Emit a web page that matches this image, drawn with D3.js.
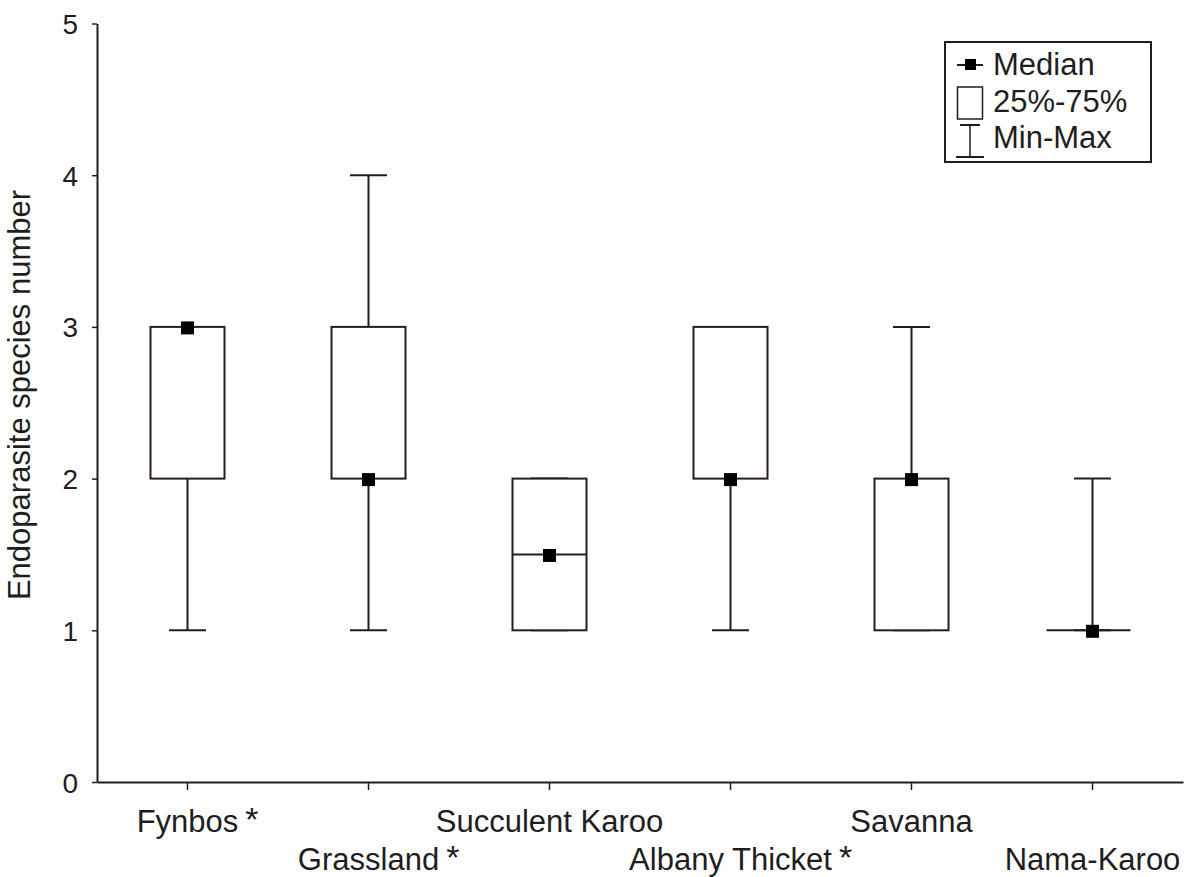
<!DOCTYPE html>
<html>
<head>
<meta charset="utf-8">
<script src="https://cdn.jsdelivr.net/npm/d3@7"></script>
<style>
  html, body { margin: 0; padding: 0; background: #fff; }
  svg { display: block; font-family: "Liberation Sans", Arial, sans-serif; }
</style>
</head>
<body>
<svg id="chart" width="1184" height="877"></svg>
<script>
// Biome names and whether each carries a significance asterisk
const categories = ["Fynbos", "Grassland", "Succulent Karoo", "Albany Thicket", "Savanna", "Nama-Karoo"];
const starred    = [true, true, false, true, false, false];
// Box-plot statistics per biome
const minVals    = [1, 1, 1, 1, 1, 1];
const q1Vals     = [2, 2, 1, 2, 1, 1];
const medianVals = [3, 2, 1.5, 2, 2, 1];
const q3Vals     = [3, 3, 2, 3, 2, 1];
const maxVals    = [3, 4, 2, 3, 3, 2];
const yTicks     = [0, 1, 2, 3, 4, 5];
const legendLabels = ["Median", "25%-75%", "Min-Max"];

const svg = d3.select("#chart");
const ink = "#1e1e1e";
const boxInk = "#2a1c1c";

const x = d3.scaleBand().domain(categories).range([97, 1183]).paddingInner(0).paddingOuter(0);
const y = d3.scaleLinear().domain([0, 5]).range([782, 23.5]);

const boxW = 74, capW = 37, markS = 13;

// Axes
const yAxis = svg.append("g").attr("transform", "translate(97,0)")
  .call(d3.axisLeft(y).tickValues(yTicks).tickSize(5).tickSizeOuter(0).tickPadding(14).tickFormat(d3.format("d")));
yAxis.select(".domain").attr("stroke", ink).attr("stroke-width", 2);
yAxis.selectAll(".tick line").attr("stroke", ink).attr("stroke-width", 1.5);
yAxis.selectAll(".tick text").attr("fill", ink).style("font-size", "28px")
  .style("font-family", "'Liberation Sans', Arial, sans-serif").attr("dy", "0.36em");

const xAxis = svg.append("g").attr("transform", "translate(0,782)")
  .call(d3.axisBottom(x).tickSize(8).tickSizeOuter(0).tickFormat(""));
xAxis.select(".domain").attr("stroke", ink).attr("stroke-width", 2);
xAxis.selectAll(".tick line").attr("stroke", ink).attr("stroke-width", 1.5);

// Category labels, staggered on two rows, with asterisks appended
const labelG = svg.append("g").attr("fill", ink).style("font-size", "31px");
categories.forEach((c, i) => {
  const cx = x(c) + x.bandwidth() / 2;
  const by = i % 2 === 0 ? 832 : 870;
  const t = labelG.append("text").attr("x", cx).attr("y", by).attr("text-anchor", "middle").text(c);
  if (starred[i]) {
    const w = t.node().getComputedTextLength();
    labelG.append("text").attr("x", cx + w / 2 + 7).attr("y", by - 1)
      .style("font-size", "34px").text("*");
  }
});

// Y axis title
svg.append("text")
  .attr("transform", "translate(30,395) rotate(-90)")
  .attr("text-anchor", "middle").attr("fill", ink).style("font-size", "31px")
  .text("Endoparasite species number");

// Box plots
const plot = svg.append("g");
categories.forEach((c, i) => {
  const cx = x(c) + x.bandwidth() / 2;
  const g = plot.append("g");
  // whiskers
  g.append("line").attr("x1", cx).attr("x2", cx).attr("y1", y(maxVals[i])).attr("y2", y(q3Vals[i]))
    .attr("stroke", ink).attr("stroke-width", 2);
  g.append("line").attr("x1", cx).attr("x2", cx).attr("y1", y(q1Vals[i])).attr("y2", y(minVals[i]))
    .attr("stroke", ink).attr("stroke-width", 2);
  [maxVals[i], minVals[i]].forEach(v => {
    g.append("line").attr("x1", cx - capW / 2).attr("x2", cx + capW / 2).attr("y1", y(v)).attr("y2", y(v))
      .attr("stroke", ink).attr("stroke-width", 2);
  });
  // interquartile box
  g.append("rect").attr("x", cx - boxW / 2).attr("y", y(q3Vals[i]))
    .attr("width", boxW).attr("height", Math.max(0, y(q1Vals[i]) - y(q3Vals[i])))
    .attr("fill", "#fff").attr("stroke", boxInk).attr("stroke-width", 2);
  // collapsed box (q1 == q3) drawn as a single line
  if (q1Vals[i] === q3Vals[i]) {
    g.append("line").attr("x1", cx - boxW / 2 - 9).attr("x2", cx + boxW / 2 + 1)
      .attr("y1", y(q1Vals[i])).attr("y2", y(q1Vals[i])).attr("stroke", ink).attr("stroke-width", 2);
  }
  // median line through the box where it lies strictly inside
  if (medianVals[i] > q1Vals[i] && medianVals[i] < q3Vals[i]) {
    g.append("line").attr("x1", cx - boxW / 2).attr("x2", cx + boxW / 2)
      .attr("y1", y(medianVals[i])).attr("y2", y(medianVals[i])).attr("stroke", boxInk).attr("stroke-width", 2);
  }
  // median marker
  g.append("rect").attr("x", cx - markS / 2).attr("y", y(medianVals[i]) - markS / 2 + 1)
    .attr("width", markS).attr("height", markS).attr("fill", "#000");
});

// Legend
const lg = svg.append("g");
lg.append("rect").attr("x", 945).attr("y", 42).attr("width", 206).attr("height", 120)
  .attr("fill", "#fff").attr("stroke", ink).attr("stroke-width", 2);
const lx = 970;
// median icon
lg.append("line").attr("x1", lx - 13).attr("x2", lx + 13).attr("y1", 65).attr("y2", 65).attr("stroke", ink).attr("stroke-width", 2);
lg.append("rect").attr("x", lx - 5).attr("y", 59).attr("width", 11).attr("height", 11).attr("fill", "#000");
// box icon
lg.append("rect").attr("x", lx - 12.5).attr("y", 87).attr("width", 25).attr("height", 32)
  .attr("fill", "#fff").attr("stroke", ink).attr("stroke-width", 1.5);
// range icon
lg.append("line").attr("x1", lx - 10).attr("x2", lx + 10).attr("y1", 125).attr("y2", 125).attr("stroke", ink).attr("stroke-width", 2);
lg.append("line").attr("x1", lx).attr("x2", lx).attr("y1", 125).attr("y2", 157).attr("stroke", ink).attr("stroke-width", 1.5);
lg.append("line").attr("x1", lx - 14).attr("x2", lx + 14).attr("y1", 157).attr("y2", 157).attr("stroke", ink).attr("stroke-width", 2);
legendLabels.forEach((t, i) => {
  lg.append("text").attr("x", 993).attr("y", 75 + i * 36.5).attr("fill", ink).style("font-size", "31px").text(t);
});
</script>
</body>
</html>
